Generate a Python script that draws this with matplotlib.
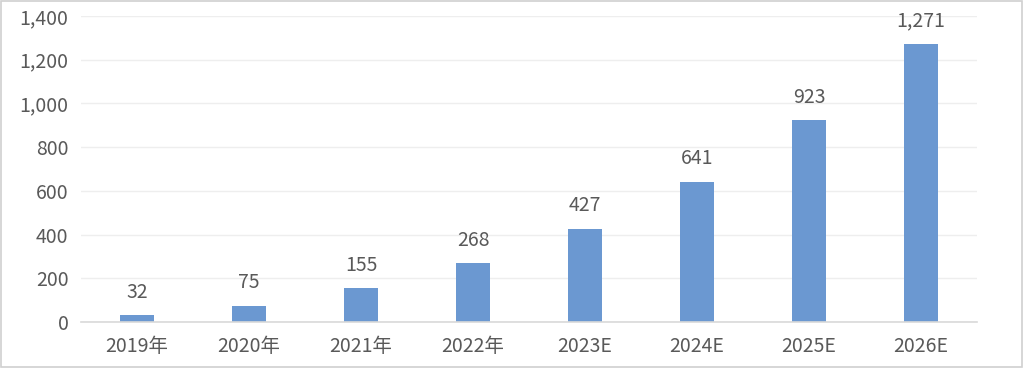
import matplotlib
matplotlib.use("Agg")
import matplotlib.pyplot as plt
from matplotlib.ticker import FuncFormatter, MultipleLocator
from matplotlib.patches import Rectangle

plt.rcParams['font.family'] = ['Noto Sans CJK SC', 'DejaVu Sans']

categories = ["2019年", "2020年", "2021年", "2022年", "2023E", "2024E", "2025E", "2026E"]
values = [32, 75, 155, 268, 427, 641, 923, 1271]

bar_color = "#6b98d1"
text_color = "#595959"
fs = 14

fig = plt.figure(figsize=(10.24, 3.68), dpi=100)
ax = fig.add_axes([0.0791, 0.125, 0.875, 0.8315])

x = list(range(len(categories)))
bars = ax.bar(x, values, width=0.31, color=bar_color, zorder=3)

for xi, v in zip(x, values):
    ax.annotate(f"{v:,}", (xi, v), xytext=(0, 9), textcoords="offset points",
                ha="center", va="bottom", fontsize=fs, color=text_color)

ax.set_xlim(-0.5, len(categories) - 0.5)
ax.set_ylim(0, 1400)
ax.yaxis.set_major_locator(MultipleLocator(200))
ax.yaxis.set_major_formatter(FuncFormatter(lambda v, p: f"{int(v):,}"))
ax.set_xticks(x)
ax.set_xticklabels(categories)

ax.tick_params(axis="both", length=0, labelsize=fs, labelcolor=text_color)
ax.tick_params(axis="y", pad=9)
ax.tick_params(axis="x", pad=10)

ax.grid(axis="y", color="#eeeeee", linewidth=1, zorder=0)
for s in ["top", "right", "left"]:
    ax.spines[s].set_visible(False)
ax.spines["bottom"].set_color("#d9d9d9")
ax.spines["bottom"].set_linewidth(1.2)
ax.spines["bottom"].set_zorder(4)

fig.patches.append(Rectangle((0.001, 0.002), 0.997, 0.995, transform=fig.transFigure,
                             fill=False, edgecolor="#d0d0d0", linewidth=1.2))

fig.savefig("out.png", dpi=100, facecolor="white")
